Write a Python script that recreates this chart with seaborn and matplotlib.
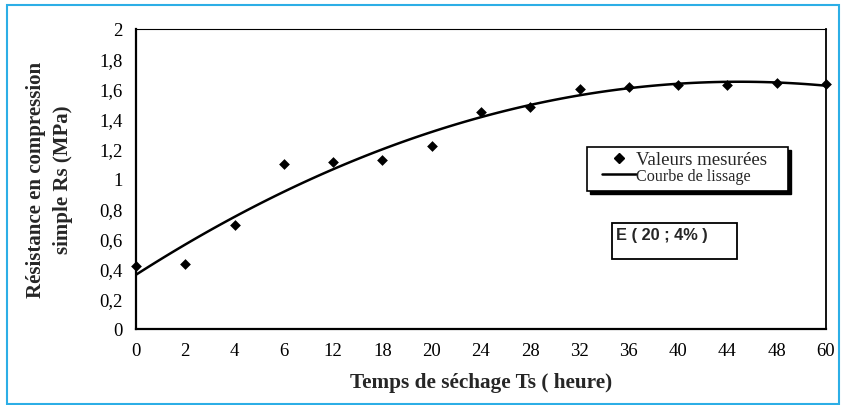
import numpy as np
import pandas as pd
import matplotlib
matplotlib.use("Agg")
import matplotlib.pyplot as plt
from matplotlib.patches import Rectangle
from matplotlib.lines import Line2D
import seaborn as sns

# Drying time (hours) and measured unconfined compressive strength (MPa)
temps_labels = ["0", "2", "4", "6", "12", "18", "20", "24", "28", "32", "36", "40", "44", "48", "60"]
resistance = [0.42, 0.435, 0.695, 1.10, 1.115, 1.125, 1.22, 1.45, 1.48, 1.60, 1.615, 1.627, 1.625, 1.64, 1.635]
y_ticks = [0, 0.2, 0.4, 0.6, 0.8, 1.0, 1.2, 1.4, 1.6, 1.8, 2.0]
y_tick_labels = ["0", "0,2", "0,4", "0,6", "0,8", "1", "1,2", "1,4", "1,6", "1,8", "2"]

df = pd.DataFrame({"pos": np.arange(len(temps_labels)), "rs": resistance})

sns.set_style("white")
plt.rcParams["font.family"] = ["Liberation Serif", "DejaVu Serif"]

W, H = 844, 406
fig = plt.figure(figsize=(W / 100, H / 100), dpi=100)
ax = fig.add_axes([136 / W, 1 - 330 / H, 690 / W, 300 / H])


def ax_box(x0, y0, x1, y1):
    """Pixel box (top-left, bottom-right) to axes-fraction rectangle args."""
    return ((x0 - 136) / 690, (330 - y1) / 300), (x1 - x0) / 690, (y1 - y0) / 300


# outer blue frame
fig.patches.append(Rectangle((7 / W, 1 / H), 832 / W, 399 / H,
                             transform=fig.transFigure, fill=False,
                             edgecolor="#2CAEE6", linewidth=1.5))

# second-order smoothing curve
sns.regplot(data=df, x="pos", y="rs", order=2, ci=None, scatter=False,
            color="black", line_kws={"linewidth": 1.8}, ax=ax)
sns.scatterplot(data=df, x="pos", y="rs", marker="D", s=30, color="black",
                edgecolor="black", linewidth=0, clip_on=False, zorder=5, ax=ax)

ax.set_xlim(0, len(temps_labels) - 1)
ax.set_ylim(0, 2)
ax.set_xticks(df["pos"])
ax.set_xticklabels(temps_labels)
ax.set_yticks(y_ticks)
ax.set_yticklabels(y_tick_labels)
ax.tick_params(direction="inout", length=9, width=1.3, labelsize=13.5,
               color="black", labelcolor="black")
ax.tick_params(axis="y", pad=5)
ax.tick_params(axis="x", pad=5)

for side, lw in {"left": 1.6, "bottom": 1.6, "right": 1.3, "top": 0.8}.items():
    ax.spines[side].set_visible(True)
    ax.spines[side].set_color("black")
    ax.spines[side].set_linewidth(lw)

ax.set_xlabel("Temps de séchage Ts ( heure)", fontsize=15.3, fontweight="bold", labelpad=9)
ax.set_ylabel("Résistance en compression\nsimple Rs (MPa)", fontsize=15,
              fontweight="bold", labelpad=19, linespacing=1.45)

# legend frame with drop shadow
(lx, ly), lw_, lh_ = ax_box(587, 148, 788, 192)
shadow_dx, shadow_dy = 2.5 / 690, 2.5 / 300
ax.add_patch(Rectangle((lx + shadow_dx, ly - shadow_dy), lw_, lh_, transform=ax.transAxes,
                       facecolor="black", edgecolor="black", zorder=8, clip_on=False))
ax.add_patch(Rectangle((lx, ly), lw_, lh_, transform=ax.transAxes,
                       facecolor="white", edgecolor="black", linewidth=1.2,
                       zorder=9, clip_on=False))

handles = [
    Line2D([], [], marker="D", markersize=5.5, color="black", linestyle="none"),
    Line2D([], [], color="black", linewidth=1.8),
]
leg = ax.legend(handles, ["Valeurs mesurées", "Courbe de lissage"],
                loc="upper left", bbox_to_anchor=((602 - 136) / 690, 1 - (152 - 30) / 300),
                fontsize=11.6, frameon=False, borderpad=0,
                handlelength=2.1, handletextpad=0.0, labelspacing=0.0,
                borderaxespad=0)
leg.set_zorder(10)
leg.get_texts()[0].set_fontsize(13.6)

# sample identification box
(bx, by), bw, bh = ax_box(612, 224, 737, 260)
ax.add_patch(Rectangle((bx, by), bw, bh, transform=ax.transAxes, fill=False,
                       edgecolor="black", linewidth=1.3, zorder=6))
ax.text((616 - 136) / 690, (330 - 228) / 300, "E ( 20 ; 4% )", transform=ax.transAxes,
        ha="left", va="top", fontsize=11.8, fontweight="bold",
        family=["Liberation Sans", "DejaVu Sans"], zorder=7)

fig.savefig("out.png", dpi=100, facecolor="white")
